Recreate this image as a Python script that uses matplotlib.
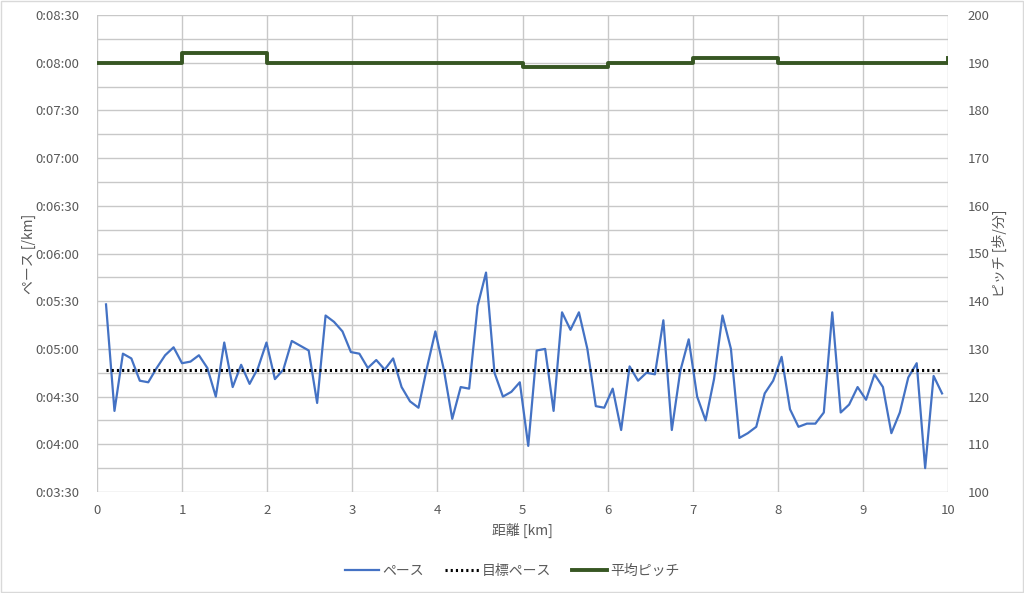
import matplotlib.pyplot as plt
import numpy as np
from matplotlib.ticker import FuncFormatter, MultipleLocator
from matplotlib.lines import Line2D
from matplotlib.patches import Rectangle

plt.rcParams['font.family'] = ['Noto Sans CJK JP', 'DejaVu Sans']

# 距離 [km] (約100mごとの計測点)
distance = np.linspace(0.106, 9.93, 100)

# ペース [秒/km]
pace = [328, 261, 297, 294, 280, 279, 288, 296, 301, 291,
        292, 296, 288, 270, 304, 276, 290, 278, 288, 304,
        281, 287, 305, 302, 299, 266, 321, 317, 311, 298,
        297, 288, 293, 287, 294, 276, 267, 263, 288, 311,
        287, 256, 276, 275, 327, 348, 285, 270, 273, 279,
        239, 299, 300, 261, 323, 312, 323, 300, 264, 263,
        275, 249, 289, 280, 285, 284, 318, 249, 286, 306,
        270, 255, 281, 321, 300, 244, 247, 251, 272, 280,
        295, 262, 251, 253, 253, 260, 323, 260, 265, 276,
        268, 284, 276, 247, 260, 282, 291, 225, 283, 272]

# 目標ペース [秒/km]
target_pace = 287

# 平均ピッチ (1kmごと)
pitch_km = [0, 1, 2, 3, 4, 5, 6, 7, 8, 9, 10]
pitch = [190, 192, 190, 190, 190, 189, 190, 191, 190, 190, 191]

grid_color = '#C8C8C8'
text_color = '#595959'


def fmt_time(v, pos):
        v = int(round(v))
        return '0:%02d:%02d' % (v // 60, v % 60)


fig = plt.figure(figsize=(10.24, 5.93), dpi=100)
ax = fig.add_axes([97 / 1024, 1 - 492 / 593, 851 / 1024, 477 / 593])
ax2 = ax.twinx()

ax.set_xlim(0, 10)
ax.set_ylim(210, 510)
ax.yaxis.set_major_locator(MultipleLocator(30))
ax.yaxis.set_minor_locator(MultipleLocator(15))
ax.yaxis.set_major_formatter(FuncFormatter(fmt_time))
ax.xaxis.set_major_locator(MultipleLocator(1))
ax.grid(True, which='both', axis='y', color=grid_color, linewidth=1)
ax.grid(True, which='major', axis='x', color=grid_color, linewidth=1)
ax.set_axisbelow(True)

ax2.set_ylim(100, 200)
ax2.yaxis.set_major_locator(MultipleLocator(10))

for a in (ax, ax2):
        for s in a.spines.values():
                s.set_visible(False)
        a.tick_params(which='both', length=0, colors=text_color, labelsize=9.5)
ax.tick_params(axis='y', pad=13)
ax.tick_params(axis='x', pad=9)
ax2.tick_params(axis='y', pad=14)

ax.plot(distance, pace, color='#4472C4', linewidth=1.6, zorder=3)
ax.plot([distance[0], distance[-1]], [target_pace, target_pace], color='black',
        linewidth=2.2, linestyle=(0, (0.7, 1.0)), zorder=3)
ax2.plot(pitch_km, pitch, color='#375623', linewidth=2.8, drawstyle='steps-post', zorder=3)

ax.set_xlabel('距離 [km]', color=text_color, fontsize=10, labelpad=4)
ax.set_ylabel('ペース [/km]', color=text_color, fontsize=10, labelpad=-1)
ax2.set_ylabel('ピッチ [歩/分]', color=text_color, fontsize=10, rotation=90, labelpad=2)

handles = [Line2D([], [], color='#4472C4', linewidth=1.6),
           Line2D([], [], color='black', linewidth=2.2, linestyle=(0, (0.7, 1.0))),
           Line2D([], [], color='#375623', linewidth=2.8)]
fig.legend(handles, ['ペース', '目標ペース', '平均ピッチ'], loc='center',
           bbox_to_anchor=(0.5, 1 - 571 / 593), ncol=3, frameon=False,
           fontsize=10, handlelength=2.5, handletextpad=0.2, columnspacing=1.5,
           labelcolor=text_color)

fig.patches.append(Rectangle((0.001, 0.001), 0.998, 0.998, transform=fig.transFigure,
                             fill=False, edgecolor='#D9D9D9', linewidth=1))

fig.savefig('out.png', dpi=100)
